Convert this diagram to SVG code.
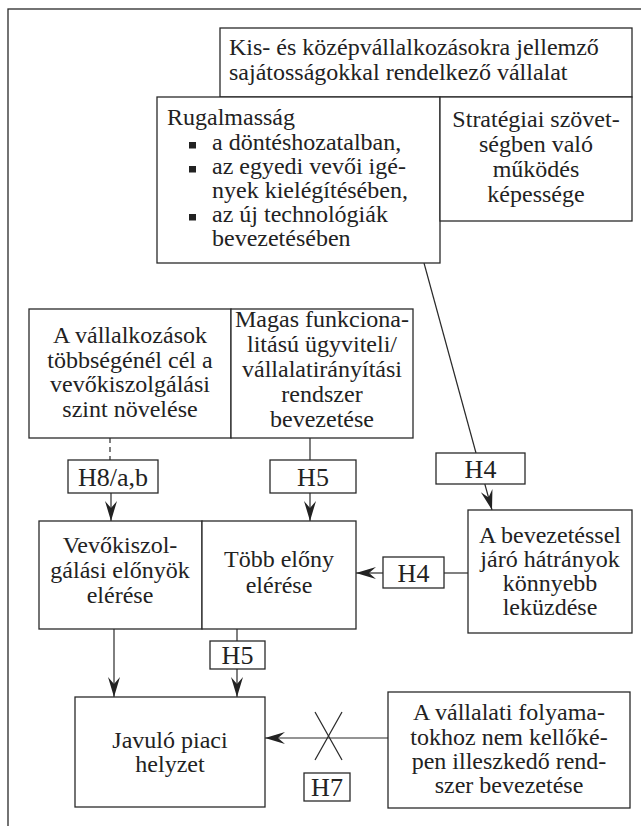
<svg xmlns="http://www.w3.org/2000/svg" width="641" height="826" viewBox="0 0 641 826">
<style>
  .box{fill:#fff;stroke:#2a2a2a;stroke-width:1.3}
  .t{font-family:"Liberation Serif","Times New Roman",serif;font-size:24px;fill:#222}
  .c{text-anchor:middle}
  .h{font-family:"Liberation Serif","Times New Roman",serif;font-size:26px;fill:#222;text-anchor:middle}
  .ln{stroke:#2a2a2a;stroke-width:1.2;fill:none}
  .bul{fill:#222}
</style>
<defs>
  <marker id="arr" viewBox="-21 -7 22 14" refX="0" refY="0" markerWidth="22" markerHeight="14" markerUnits="userSpaceOnUse" orient="auto">
    <path d="M0,0 L-20,-6 L-13,0 L-20,6 Z" fill="#222"/>
  </marker>
</defs>
<rect x="8" y="9" width="700" height="900" fill="none" stroke="#2a2a2a" stroke-width="1.3"/>

<g id="connectors">
  <line class="ln" x1="110" y1="438" x2="110" y2="460" stroke-dasharray="5,4"/>
  <line class="ln" x1="111" y1="493" x2="111" y2="521" marker-end="url(#arr)"/>
  <line class="ln" x1="310" y1="438" x2="310" y2="460"/>
  <line class="ln" x1="310" y1="493" x2="310" y2="521" marker-end="url(#arr)"/>
  <line class="ln" x1="424" y1="263" x2="476" y2="453"/>
  <line class="ln" x1="484.8" y1="484" x2="492" y2="510" marker-end="url(#arr)"/>
  <line class="ln" x1="468" y1="573" x2="444" y2="573"/>
  <line class="ln" x1="383" y1="573" x2="356" y2="573" marker-end="url(#arr)"/>
  <line class="ln" x1="114" y1="629" x2="114" y2="697" marker-end="url(#arr)"/>
  <line class="ln" x1="237" y1="629" x2="237" y2="641"/>
  <line class="ln" x1="237" y1="669" x2="237" y2="697" marker-end="url(#arr)"/>
  <line class="ln" x1="388" y1="738" x2="265" y2="738" marker-end="url(#arr)"/>
  <line class="ln" x1="315" y1="712" x2="342" y2="760" stroke-width="1.8"/>
  <line class="ln" x1="342" y1="712" x2="315" y2="760" stroke-width="1.8"/>
</g>

<g id="n-kkv">
  <rect class="box" x="220" y="28" width="412" height="69"/>
  <text class="t" x="229" y="55">Kis- és középvállalkozásokra jellemző</text>
  <text class="t" x="229" y="80">sajátosságokkal rendelkező vállalat</text>
</g>

<g id="n-rugalmassag">
  <rect class="box" x="157" y="97" width="283" height="166"/>
  <text class="t" x="167" y="125">Rugalmasság</text>
  <rect class="bul" x="189" y="142" width="7" height="6.5"/>
  <text class="t" x="212" y="150">a döntéshozatalban,</text>
  <rect class="bul" x="189" y="166" width="7" height="6.5"/>
  <text class="t" x="212" y="174">az egyedi vevői igé-</text>
  <text class="t" x="212" y="198">nyek kielégítésében,</text>
  <rect class="bul" x="189" y="214" width="7" height="6.5"/>
  <text class="t" x="212" y="222">az új technológiák</text>
  <text class="t" x="212" y="246">bevezetésében</text>
</g>

<g id="n-strategiai">
  <rect class="box" x="440" y="97" width="192" height="124"/>
  <text class="t c" x="536" y="127">Stratégiai szövet-</text>
  <text class="t c" x="536" y="152">ségben való</text>
  <text class="t c" x="536" y="177">működés</text>
  <text class="t c" x="536" y="202">képessége</text>
</g>

<g id="n-vallalkozasok">
  <rect class="box" x="29" y="309" width="202" height="129"/>
  <text class="t c" x="130" y="343">A vállalkozások</text>
  <text class="t c" x="130" y="368">többségénél cél a</text>
  <text class="t c" x="130" y="392">vevőkiszolgálási</text>
  <text class="t c" x="130" y="417">szint növelése</text>
</g>

<g id="n-magas">
  <rect class="box" x="231" y="309" width="182" height="129"/>
  <text class="t c" x="322" y="327">Magas funkciona-</text>
  <text class="t c" x="322" y="352">litású ügyviteli/</text>
  <text class="t c" x="322" y="377">vállalatirányítási</text>
  <text class="t c" x="322" y="402">rendszer</text>
  <text class="t c" x="322" y="427">bevezetése</text>
</g>

<g id="l-h8">
  <rect class="box" x="68" y="460" width="90" height="33"/>
  <text class="h" x="113" y="486">H8/a,b</text>
</g>
<g id="l-h5a">
  <rect class="box" x="270" y="460" width="86" height="33"/>
  <text class="h" x="313" y="486">H5</text>
</g>
<g id="l-h4a">
  <rect class="box" x="436" y="453" width="89" height="31"/>
  <text class="h" x="480.5" y="478">H4</text>
</g>

<g id="n-vevo">
  <rect class="box" x="39" y="521" width="163" height="108"/>
  <text class="t c" x="120" y="553">Vevőkiszol-</text>
  <text class="t c" x="120" y="578">gálási előnyök</text>
  <text class="t c" x="120" y="603">elérése</text>
</g>
<g id="n-tobb">
  <rect class="box" x="202" y="521" width="154" height="108"/>
  <text class="t c" x="279" y="567">Több előny</text>
  <text class="t c" x="279" y="593">elérése</text>
</g>
<g id="l-h4b">
  <rect class="box" x="383" y="557" width="61" height="31"/>
  <text class="h" x="413.5" y="582">H4</text>
</g>
<g id="n-bevezetessel">
  <rect class="box" x="468" y="510" width="164" height="123"/>
  <text class="t c" x="550" y="543">A bevezetéssel</text>
  <text class="t c" x="550" y="567">járó hátrányok</text>
  <text class="t c" x="550" y="591">könnyebb</text>
  <text class="t c" x="550" y="615">leküzdése</text>
</g>

<g id="l-h5b">
  <rect class="box" x="210" y="641" width="55" height="28"/>
  <text class="h" x="237.5" y="664">H5</text>
</g>
<g id="n-javulo">
  <rect class="box" x="75" y="697" width="190" height="110"/>
  <text class="t c" x="170" y="748">Javuló piaci</text>
  <text class="t c" x="170" y="772">helyzet</text>
</g>
<g id="l-h7">
  <rect class="box" x="304" y="773" width="46" height="28"/>
  <text class="h" x="327" y="796">H7</text>
</g>
<g id="n-vallalati">
  <rect class="box" x="388" y="692" width="242" height="116"/>
  <text class="t c" x="509" y="720">A vállalati folyama-</text>
  <text class="t c" x="509" y="745">tokhoz nem kellőké-</text>
  <text class="t c" x="509" y="769">pen illeszkedő rend-</text>
  <text class="t c" x="509" y="793">szer bevezetése</text>
</g>
</svg>
